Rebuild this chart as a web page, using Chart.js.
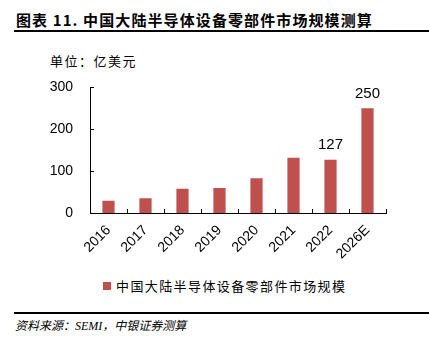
<!DOCTYPE html>
<html>
<head>
<meta charset="utf-8">
<script src="https://cdn.jsdelivr.net/npm/chart.js@4.4.0/dist/chart.umd.min.js"></script>
<style>
    body { margin: 0; width: 429px; height: 341px; background: #fff; position: relative; overflow: hidden; font-family: "Noto Sans CJK SC", sans-serif; }
    .title { position: absolute; left: 16px; top: 9px; font-size: 15px; font-weight: bold; color: #000; letter-spacing: 1.1px; white-space: nowrap; }
    .rule { position: absolute; left: 14px; right: 0; height: 1.5px; background: #000; }
    .unit { position: absolute; left: 50px; top: 51px; font-size: 13px; color: #000; letter-spacing: 1.5px; }
    .legend { position: absolute; left: 103px; top: 276px; font-size: 13px; color: #000; letter-spacing: 1.4px; white-space: nowrap; }
    .legend i { display: inline-block; width: 8px; height: 8px; background: #c0504d; margin-right: 5px; vertical-align: 1px; }
    .source { position: absolute; left: 15px; top: 316px; font-size: 12px; font-style: italic; color: #000; white-space: nowrap; }
    .source span { font-family: "Liberation Serif", serif; }
    #wrap { position: absolute; left: 0; top: 62px; width: 429px; height: 208px; }
</style>
</head>
<body>
<div class="title">图表 11. 中国大陆半导体设备零部件市场规模测算</div>
<div class="rule" style="top:30px"></div>
<div class="unit">单位：亿美元</div>
<div id="wrap"><canvas id="chart"></canvas></div>
<div class="legend"><i></i>中国大陆半导体设备零部件市场规模</div>
<div class="rule" style="top:312px"></div>
<div class="source">资料来源：<span>SEMI</span>，中银证券测算</div>
<script>
// Chart data
const years = ['2016', '2017', '2018', '2019', '2020', '2021', '2022', '2026E'];
const marketSize = [29, 35, 58, 60, 83, 132, 127, 250];
const shownLabels = [null, null, null, null, null, null, 127, 250];
const yTicks = [0, 100, 200, 300];

const barColor = '#c0504d';

// inward ticks + value labels
const decorPlugin = {
    id: 'decor',
    afterDraw(chart) {
        const ctx = chart.ctx;
        const y = chart.scales.y;
        const area = chart.chartArea;
        ctx.save();
        ctx.strokeStyle = '#000';
        ctx.lineWidth = 1;
        ctx.beginPath();
        yTicks.forEach(v => {
            const py = Math.round(y.getPixelForValue(v)) + 0.5;
            ctx.moveTo(area.left, py);
            ctx.lineTo(area.left + 4, py);
        });
        const step = (area.right - area.left) / years.length;
        for (let i = 1; i <= years.length; i++) {
            const px = Math.round(area.left + i * step) + 0.5;
            ctx.moveTo(px, area.bottom);
            ctx.lineTo(px, area.bottom - 4);
        }
        ctx.stroke();

        ctx.fillStyle = '#000';
        ctx.font = '15px "Liberation Sans", Arial, sans-serif';
        ctx.textAlign = 'center';
        ctx.textBaseline = 'bottom';
        const meta = chart.getDatasetMeta(0);
        meta.data.forEach((bar, i) => {
            if (shownLabels[i] === null) return;
            ctx.fillText(String(shownLabels[i]), bar.x, bar.y - 7);
        });
        ctx.restore();
    }
};

new Chart(document.getElementById('chart'), {
    type: 'bar',
    data: {
        labels: years,
        datasets: [{
            data: marketSize,
            backgroundColor: barColor,
            borderWidth: 0,
            categoryPercentage: 1,
            barPercentage: 0.33
        }]
    },
    options: {
        responsive: true,
        maintainAspectRatio: false,
        animation: false,
        layout: { padding: { top: 0, right: 43, left: 0, bottom: 0 } },
        plugins: {
            legend: { display: false },
            tooltip: { enabled: false }
        },
        scales: {
            x: {
                grid: { display: false, drawTicks: false },
                border: { display: true, color: '#000', width: 1 },
                ticks: {
                    color: '#000',
                    font: { size: 14, family: '"Liberation Sans", Arial, sans-serif' },
                    minRotation: 45,
                    maxRotation: 45,
                    padding: 9
                },
                afterFit(scale) { scale.height = 57; }
            },
            y: {
                min: 0,
                max: 300,
                grid: { display: false, drawTicks: false },
                border: { display: true, color: '#000', width: 1 },
                ticks: {
                    stepSize: 100,
                    color: '#000',
                    font: { size: 14, family: '"Liberation Sans", Arial, sans-serif' },
                    padding: 17
                },
                afterFit(scale) { scale.width = 90; }
            }
        }
    },
    plugins: [decorPlugin]
});
</script>
</body>
</html>
